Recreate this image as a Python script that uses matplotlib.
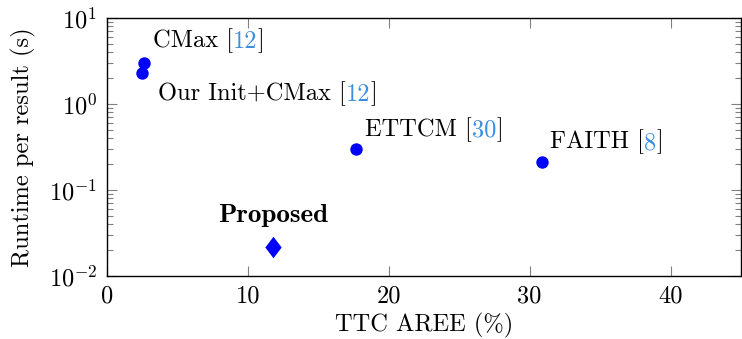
import matplotlib
matplotlib.use("Agg")
import matplotlib.pyplot as plt
from matplotlib.ticker import FixedLocator, FixedFormatter, LogLocator, NullFormatter

plt.rcParams['font.family'] = ['cmr10', 'DejaVu Serif']
plt.rcParams['mathtext.fontset'] = 'cm'
plt.rcParams['axes.unicode_minus'] = False
plt.rcParams['font.size'] = 17.6

# ---- data ----
methods = ["CMax", "Our Init+CMax", "ETTCM", "FAITH"]
refs = ["12", "12", "30", "8"]
aree = [2.6, 2.5, 17.7, 30.9]
runtime = [3.0, 2.3, 0.30, 0.21]
proposed_name = "Proposed"
proposed_aree = [11.8]
proposed_runtime = [0.022]

xticks = [0, 10, 20, 30, 40]
xticklabels = ["0", "10", "20", "30", "40"]
yticks = [1e-2, 1e-1, 1e0, 1e1]
yticklabels = [r"$10^{-2}$", r"$10^{-1}$", r"$10^{0}$", r"$10^{1}$"]

# label offsets in pixels (dx, dy from point to baseline-left of label)
label_offsets = [(9, 16), (16, -27), (9, 13), (8, 14)]

W, H = 742, 339
fig = plt.figure(figsize=(W / 100, H / 100), dpi=100)
ax = fig.add_axes([107 / W, 1 - 276 / H, (741 - 107) / W, (276 - 18) / H])

ax.set_xscale('linear')
ax.set_yscale('log')
ax.set_xlim(0, 45)
ax.set_ylim(1e-2, 1e1)

ax.scatter(aree, runtime, s=80, color=(0, 0, 1), zorder=3, linewidths=0)
diamond = [(-0.38, 0), (0, 0.5), (0.38, 0), (0, -0.5), (-0.38, 0)]
ax.plot(proposed_aree, proposed_runtime, linestyle='none', marker=diamond,
        markersize=15.5, color=(0, 0, 1), markeredgewidth=0, zorder=3)

blue_ref = '#3a8fe0'
for name, ref, x, y, (dx, dy) in zip(methods, refs, aree, runtime, label_offsets):
    t1 = ax.annotate(name + " [", xy=(x, y), xytext=(dx, dy), textcoords='offset pixels',
                     ha='left', va='baseline', color='black')
    t2 = ax.annotate(ref, xy=(1, 0), xycoords=t1, ha='left', va='bottom', color=blue_ref)
    t3 = ax.annotate("]", xy=(1, 0), xycoords=t2, ha='left', va='bottom', color='black')

ax.annotate(proposed_name, xy=(proposed_aree[0], proposed_runtime[0]), xytext=(0, 25),
            textcoords='offset pixels', ha='center', va='baseline',
            fontfamily='cmb10', fontsize=19.5, color='black')

ax.xaxis.set_major_locator(FixedLocator(xticks))
ax.xaxis.set_major_formatter(FixedFormatter(xticklabels))
ax.yaxis.set_major_locator(FixedLocator(yticks))
ax.yaxis.set_major_formatter(FixedFormatter(yticklabels))
ax.yaxis.set_minor_locator(LogLocator(base=10, subs=range(2, 10), numticks=20))
ax.yaxis.set_minor_formatter(NullFormatter())

ax.tick_params(which='both', direction='in', top=True, right=True, color='#808080',
               width=0.8, labelsize=17.6)
ax.tick_params(which='major', length=7.5, pad=7)
ax.tick_params(which='minor', length=4)
ax.tick_params(axis='x', which='minor', bottom=False, top=False)

for sp in ax.spines.values():
    sp.set_linewidth(1.0)
    sp.set_color('black')

ax.set_xlabel("TTC AREE (%)", labelpad=4)
ax.set_ylabel("Runtime per result (s)", labelpad=9)

fig.savefig("out.png", dpi=100)
